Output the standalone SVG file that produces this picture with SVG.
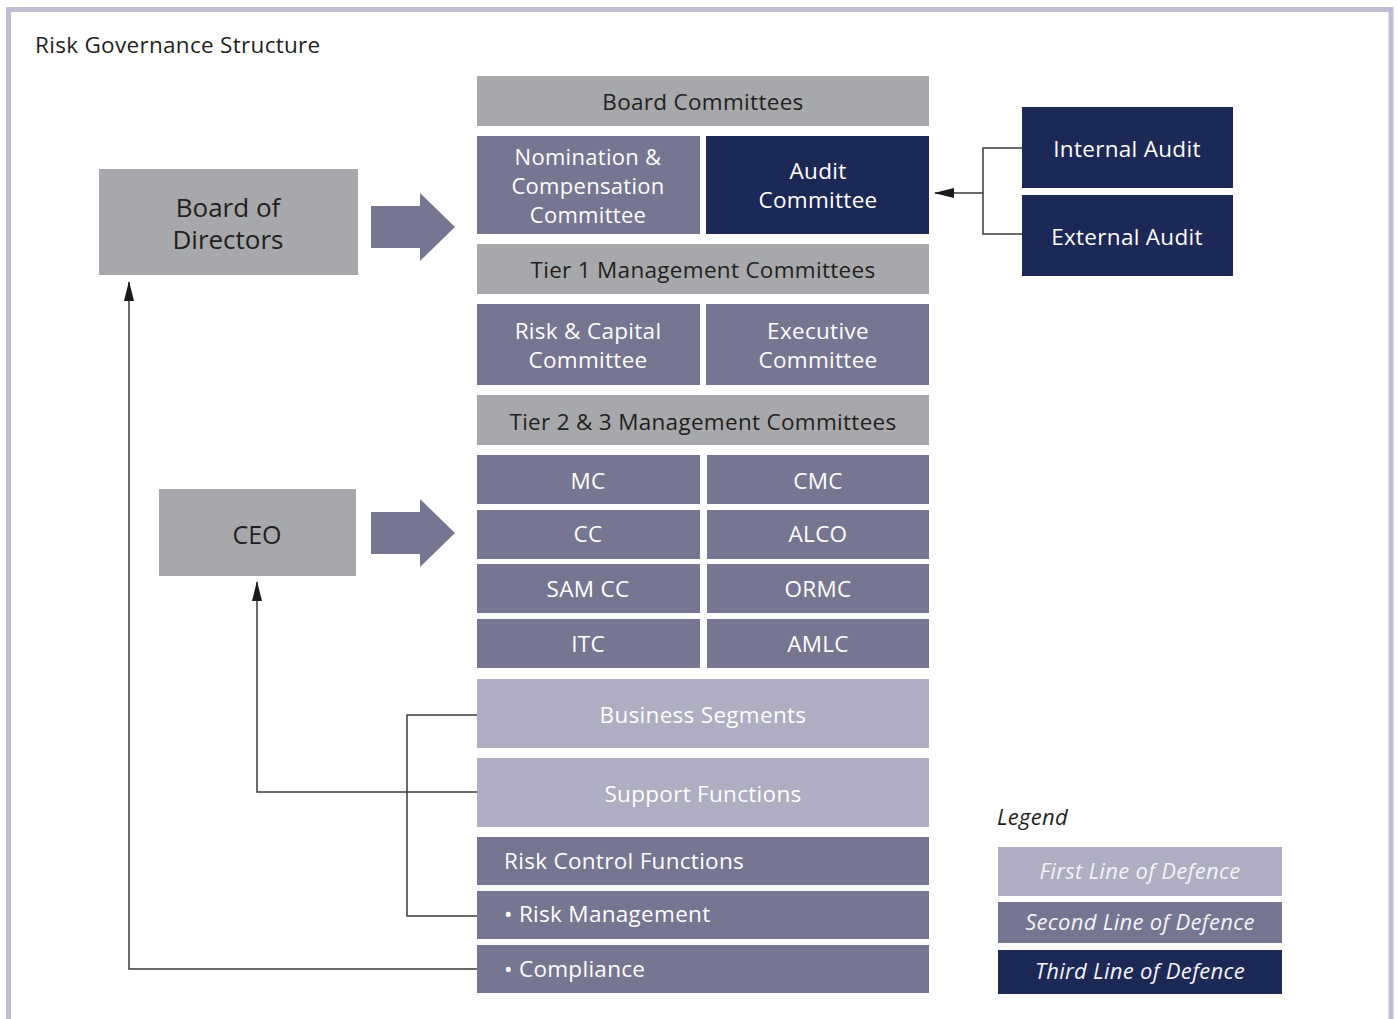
<svg xmlns="http://www.w3.org/2000/svg" width="1397" height="1019" viewBox="0 0 1397 1019">
<defs>
<style>
text{font-family:"Open Sans","Liberation Sans",sans-serif;font-size:22.5px;letter-spacing:0.3px;text-anchor:middle}
.g{fill:#a7a8ab}.p{fill:#767592}.n{fill:#1c2856}.l{fill:#aeadc1}
.dk{fill:#231f20}.wt{fill:#ffffff}
.leg{font-style:italic;fill:#f4f4f8;font-size:22px}
.big{font-size:26px;letter-spacing:0}
.c{fill:none;stroke:#3a3a3a;stroke-width:1.5}
.ba{fill:#767592}
</style>
<marker id="ah2" viewBox="0 0 20 10" refX="19" refY="5" markerWidth="20" markerHeight="10" markerUnits="userSpaceOnUse" orient="auto">
<path d="M0,0 L20,5 L0,10 z" fill="#1a1a1a"/>
</marker>
</defs>
<rect x="0" y="0" width="1397" height="1019" fill="#ffffff"/>
<rect x="8.5" y="9.5" width="1382.5" height="1030" fill="none" stroke="#bfbdd1" stroke-width="5"/>
<text x="35" y="53" class="dk" style="text-anchor:start">Risk Governance Structure</text>

<g id="connectors">
<polyline class="c" points="477,969 129,969 129,282" marker-end="url(#ah2)"/>
<polyline class="c" points="477,792 257,792 257,582" marker-end="url(#ah2)"/>
<polyline class="c" points="477,715 407,715 407,916 477,916"/>
<polyline class="c" points="1022,148 983,148 983,234 1022,234"/>
<line class="c" x1="983" y1="193" x2="935" y2="193" marker-end="url(#ah2)"/>
<path class="ba" d="M371,206 H420 V193 L455,227 L420,261 V248 H371 Z"/>
<path class="ba" d="M371,512 H420 V499 L455,533 L420,567 V554 H371 Z"/>
</g>

<g id="board-of-directors"><rect x="99" y="169" width="259" height="106" class="g"/>
<text x="228" y="217" class="dk big">Board of</text>
<text x="228" y="249" class="dk big">Directors</text></g>
<g id="ceo"><rect x="159" y="489" width="197" height="87" class="g"/>
<text x="257" y="544" class="dk big" style="font-size:25px">CEO</text></g>

<g id="board-committees"><rect x="477" y="76" width="452" height="50" class="g"/><text x="703" y="110" class="dk">Board Committees</text></g>
<g id="nomination"><rect x="477" y="136" width="223" height="98" class="p"/>
<text x="588" y="165" class="wt" style="font-size:22px">Nomination &amp;</text><text x="588" y="194" class="wt" style="font-size:22px">Compensation</text><text x="588" y="223" class="wt" style="font-size:22px">Committee</text></g>
<g id="audit-committee"><rect x="706" y="136" width="223" height="98" class="n"/>
<text x="818" y="179" class="wt">Audit</text><text x="818" y="208" class="wt">Committee</text></g>
<g id="tier1"><rect x="477" y="244" width="452" height="50" class="g"/><text x="703" y="278" class="dk">Tier 1 Management Committees</text></g>
<g id="risk-capital"><rect x="477" y="304" width="223" height="81" class="p"/>
<text x="588" y="339" class="wt">Risk &amp; Capital</text><text x="588" y="368" class="wt">Committee</text></g>
<g id="executive"><rect x="706" y="304" width="223" height="81" class="p"/>
<text x="818" y="339" class="wt">Executive</text><text x="818" y="368" class="wt">Committee</text></g>
<g id="tier23"><rect x="477" y="395" width="452" height="50" class="g"/><text x="703" y="430" class="dk">Tier 2 &amp; 3 Management Committees</text></g>
<g id="mc"><rect x="477" y="455" width="223" height="49" class="p"/><text x="588" y="489" class="wt">MC</text></g>
<g id="cmc"><rect x="707" y="455" width="222" height="49" class="p"/><text x="818" y="489" class="wt">CMC</text></g>
<g id="cc"><rect x="477" y="510" width="223" height="49" class="p"/><text x="588" y="542" class="wt">CC</text></g>
<g id="alco"><rect x="707" y="510" width="222" height="49" class="p"/><text x="818" y="542" class="wt">ALCO</text></g>
<g id="samcc"><rect x="477" y="564" width="223" height="49" class="p"/><text x="588" y="597" class="wt">SAM CC</text></g>
<g id="ormc"><rect x="707" y="564" width="222" height="49" class="p"/><text x="818" y="597" class="wt">ORMC</text></g>
<g id="itc"><rect x="477" y="619" width="223" height="49" class="p"/><text x="588" y="652" class="wt">ITC</text></g>
<g id="amlc"><rect x="707" y="619" width="222" height="49" class="p"/><text x="818" y="652" class="wt">AMLC</text></g>
<g id="business-segments"><rect x="477" y="679" width="452" height="69" class="l"/><text x="703" y="723" class="wt">Business Segments</text></g>
<g id="support-functions"><rect x="477" y="758" width="452" height="69" class="l"/><text x="703" y="802" class="wt">Support Functions</text></g>
<g id="risk-control"><rect x="477" y="837" width="452" height="48" class="p"/><text x="504" y="869" class="wt" style="text-anchor:start">Risk Control Functions</text></g>
<g id="risk-management"><rect x="477" y="891" width="452" height="48" class="p"/><text x="504" y="922" class="wt" style="text-anchor:start">• Risk Management</text></g>
<g id="compliance"><rect x="477" y="945" width="452" height="48" class="p"/><text x="504" y="977" class="wt" style="text-anchor:start">• Compliance</text></g>

<g id="internal-audit"><rect x="1022" y="107" width="211" height="81" class="n"/><text x="1127" y="157" class="wt">Internal Audit</text></g>
<g id="external-audit"><rect x="1022" y="195" width="211" height="81" class="n"/><text x="1127" y="245" class="wt">External Audit</text></g>

<g id="legend">
<text x="997" y="825" class="dk" style="text-anchor:start;font-style:italic;font-size:22px">Legend</text>
<rect x="998" y="847" width="284" height="49" class="l"/><text x="1140" y="879" class="leg">First Line of Defence</text>
<rect x="998" y="902" width="284" height="41" class="p"/><text x="1140" y="930" class="leg">Second Line of Defence</text>
<rect x="998" y="950" width="284" height="44" class="n"/><text x="1140" y="979" class="leg">Third Line of Defence</text>
</g>
</svg>
